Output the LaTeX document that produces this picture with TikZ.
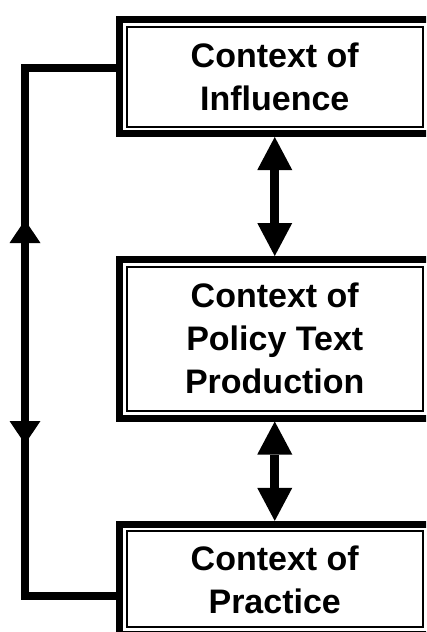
\documentclass[tikz,border=0pt]{standalone}
\usepackage{fontspec}
\setmainfont{Liberation Sans}
\usetikzlibrary{arrows.meta}
\begin{document}
\begin{tikzpicture}[x=1pt,y=-1pt,
  box/.style={draw, line width=7pt, rectangle, inner sep=0pt, align=center,
    minimum width=310.5pt, font=\fontsize{34}{43}\selectfont\bfseries},
  innerframe/.style={line width=2pt},
  biarrow/.style={line width=9pt,
    {Triangle[width=35pt,length=33pt,line width=0pt]}-{Triangle[width=35pt,length=33pt,line width=0pt]}},
  loopline/.style={line width=8pt, line join=miter},
  arrowhead/.style={fill=black}]
\useasboundingbox (0,0) rectangle (426,632);
\clip (0,0) rectangle (426,632);
\node[box, minimum height=114pt] (b1) at (274.75,76.5) {Context of\\Influence};
\node[box, minimum height=158.5pt] (b2) at (274.75,338.75) {Context of\\Policy Text\\Production};
\node[box, minimum height=110pt] (b3) at (274.75,579.4) {Context of\\Practice};
\foreach \b in {b1,b2,b3}
  \draw[innerframe] ([shift={(10.5,10.5)}]\b.north west) rectangle ([shift={(-10.5,-10.5)}]\b.south east);
\draw[biarrow] (b1.south) -- (b2.north);
\draw[biarrow] (b2.south) -- (b3.north);
\coordinate (lt) at (25,67.5);
\coordinate (lb) at (25,595.5);
\draw[loopline] (b1.west |- lt) -- (lt) -- (lb) -- (b3.west |- lb);
\fill[arrowhead] (25,220) -- (9.5,243) -- (40.5,243) -- cycle;
\fill[arrowhead] (25,444) -- (9.5,421) -- (40.5,421) -- cycle;
\end{tikzpicture}
\end{document}
